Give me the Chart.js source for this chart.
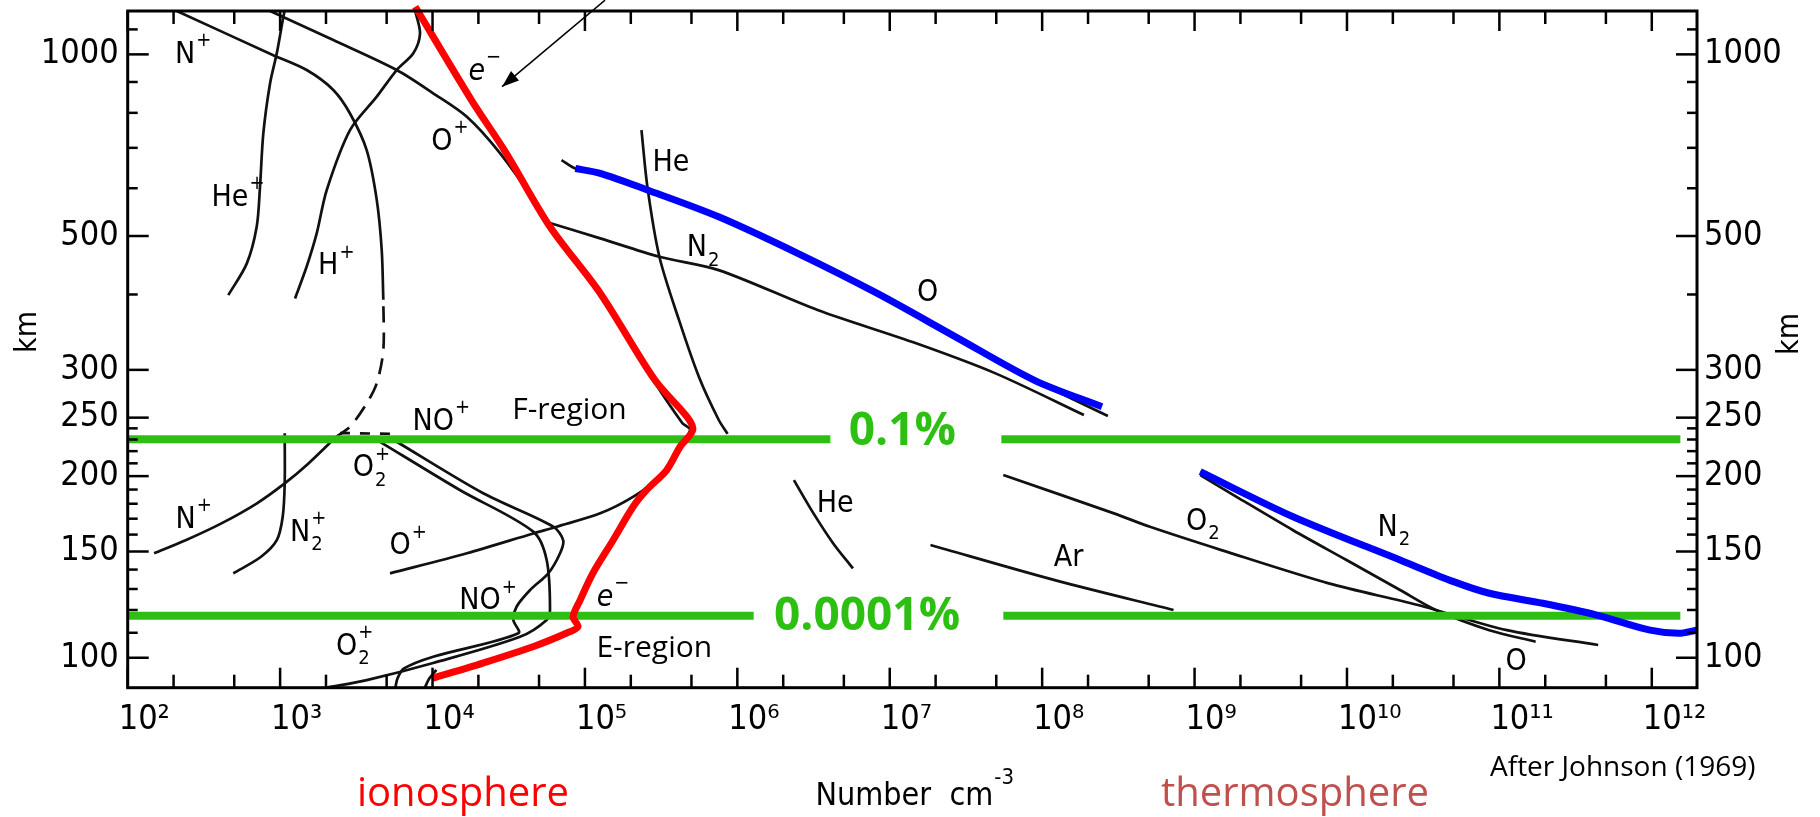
<!DOCTYPE html>
<html>
<head>
<meta charset="utf-8">
<script src="https://cdn.jsdelivr.net/npm/chart.js@4.4.1/dist/chart.umd.min.js"></script>
<style>
  html, body { margin: 0; padding: 0; background: #fff; }
  #wrap { width: 1820px; height: 817px; }
</style>
</head>
<body>
<div id="wrap"><canvas id="myChart"></canvas></div>
<script>
// axis ranges (number cm^-3, km)
const xRange = [100, 1.98e12];
const yRange = [89.2, 1180];
const xDecades = [2, 3, 4, 5, 6, 7, 8, 9, 10, 11, 12];
const yLabelled = [100, 150, 200, 250, 300, 500, 1000];
const yMinor = [110, 120, 130, 140, 160, 170, 180, 190, 210, 220, 230, 240, 400, 600, 700, 800, 900, 1100];

// ions, [number cm^-3, km]
const nPlusLow = [[149,149],[240,156.6],[412,167],[705,180.3],[1072,194.5],[1535,209.9],[2330,232.3]];
const nPlusDash = [[2330,232.3],[2875,241.5],[3700,264],[4306,285],[4756,323.6],[4756,392]];
const nPlusTop = [[4756,392],[4642,474],[4306,574],[3698,694],[2875,798],[2234,873],[1494,942],[902,997],[210,1180]];
const noPlusDash = [[2470,235.7],[5850,235]];
const hePlus = [[457,399],[604,450],[702,518],[738,603],[776,740],[859,895],[951,1004],[1050,1154],[1070,1180]];
const hPlus = [[1253,394],[1494,445],[1738,505],[2023,596],[2875,749],[4306,851],[5820,942],[7480,1004],[8280,1083],[7700,1180]];
const n2Plus = [[493,138],[750,147],[951,156.6],[1040,171.3],[1072,194.5],[1072,235.5]];
const oPlus = [[860,1180],[2234,1056],[5820,942],[1.01e4,862],[1.68e4,788],[2.77e4,686],[4.58e4,574],[5.8e4,518],[1.22e5,402],[2.8e5,288.5],[4.35e5,245],[4.9e5,238.5],[4.21e5,223.7],[3.11e5,199.5],[2.08e5,184.9],[1.26e5,173.5],[6.53e4,164.9],[4.58e4,160.7],[1.68e4,149],[5260,138]];
const o2Plus = [[4525,228],[1.51e4,189.7],[4.58e4,161.8],[5.61e4,145.2],[5.9e4,120],[5.61e4,115.5],[3.75e4,108.3],[1.01e4,98],[3700,91.8],[2020,89.2]];
const noPlus = [[5820,228],[2.15e4,187.3],[6.2e4,164.9],[7.2e4,156.6],[6.87e4,149],[5.75e4,138],[4.37e4,129.5],[3.56e4,121.5],[3.39e4,115.5],[3.66e4,109.8],[1.01e4,100.4],[6500,96],[5900,92.5],[5700,89.2]];
const eLowTail = [[1.06e4,95.5],[9.5e3,92.3],[8.9e3,89.2]];
const electrons = [[7.7e3,1199],[1.8e4,840],[3.0e4,690],[5.9e4,518],[1.26e5,402],[2.88e5,288.5],[4.68e5,250.7],[5.1e5,238.5],[4.21e5,223.7],[3.44e5,204.7],[2.54e5,189.7],[2.07e5,177.9],[1.53e5,156.6],[1.13e5,138.2],[9.3e4,124.6],[8.36e4,116.9],[9.0e4,112.6],[7.6e4,109.9],[4.56e4,104.3],[2.14e4,98],[9.9e3,92.4]];

// neutrals
const heHigh = [[2.35e5,749],[2.57e5,603],[3.08e5,462],[4.14e5,363],[5.6e5,292],[7.54e5,248],[8.63e5,235]];
const n2High = [[5.53e4,528],[1.26e5,495.5],[3.08e5,462],[7.54e5,439],[3.36e6,377],[1.49e7,332],[4.94e7,296],[1.88e8,252.5]];
const oHigh = [[7.02e4,668],[8.65e4,647],[1.26e5,635],[2.57e5,596],[7.54e5,538],[2.49e6,468],[8.23e6,402],[2.72e7,340],[8.98e7,288],[2.7e8,251.5]];
const oHighBlue = [[8.65e4,647],[1.26e5,635],[2.57e5,596],[7.54e5,538],[2.49e6,468],[8.23e6,402],[2.72e7,340],[8.98e7,288],[2.47e8,260.6]];
const heLow = [[2.35e6,197],[3.16e6,173.5],[4.26e6,154.7],[5.74e6,140.6]];
const ar = [[1.85e7,153.8],[1.21e8,134.5],[7.28e8,120]];
const o2 = [[5.56e7,200.8],[2.96e8,173.5],[5.1e8,164.8],[1.5e9,150.8],[7.59e9,132.8],[2.92e10,122.3],[1.12e11,111.1],[4.45e11,105]];
const oLow = [[1.09e9,200.8],[1.97e9,183.6],[4.43e9,162.7],[9.93e9,145.2],[2.23e10,129.5],[3.83e10,120],[8.59e10,111.1],[1.73e11,106.3]];
const n2Low = [[1.09e9,203.4],[4.43e9,171.3],[2.23e10,145.2],[5.01e10,133.7],[8.59e10,127.9],[1.93e11,123.1],[4.34e11,117.7],[9.75e11,111.1],[1.5e12,109.8],[1.97e12,111.1]];

// percentage markers
const pctLevels = [230.2, 117.4];
const pctText = ['0.1%', '0.0001%'];
const pctGapFrom = [4.08e6, 1.28e6];
const pctGapTo = [5.4e7, 5.56e7];
const pctLineEnd = 1.54e12;
const pctTextAt = [[1.21e7, 225.2], [7.1e6, 111.1]];

// curve labels: base, superscript, subscript, x, y
const curveLabels = [
  ['N','+','',238,997], ['He','+','',469,578], ['H','+','',2070,445], ['O','+','',1.15e4,716],
  ['e','\u2212','',1.95e4,935], ['He','','',3.67e5,660], ['N','','2',5.43e5,477], ['O','','',1.77e7,402],
  ['NO','+','',1.01e4,246], ['O','+','2',3514,206], ['N','+','',240,169], ['N','+','2',1352,161],
  ['O','+','',6120,153], ['NO','+','',2.05e4,124], ['e','\u2212','',1.355e5,125.5], ['O','+','2',2735,104.3],
  ['He','','',4.39e6,180], ['Ar','','',1.49e8,146], ['O','','2',1.03e9,168], ['N','','2',1.85e10,164], ['O','','',1.29e11,98.5]
];
const regionLabels = [['F-region', 3.33e4, 248.3], ['E-region', 1.19e5, 100.4]];
const arrowFrom = [1.355e5, 1230];
const arrowTo = [2.86e4, 884];

const SUP = {'0':'\u2070','1':'\u00b9','2':'\u00b2','3':'\u00b3','4':'\u2074','5':'\u2075','6':'\u2076','7':'\u2077','8':'\u2078','9':'\u2079'};
const scanFont = '"DejaVu Sans Condensed", "DejaVu Sans", sans-serif';
const slideFont = '"Open Sans", "Noto Sans", sans-serif';

function pts(a) { return a.map(p => ({x: p[0], y: p[1]})); }
function curve(data, color, width, order, extra) {
  return Object.assign({
    data: pts(data), showLine: true, borderColor: color, borderWidth: width,
    pointRadius: 0, tension: 0.3, fill: false, order: order
  }, extra || {});
}

const black = '#111', blue = '#0000ff', red = '#ff0000', green = '#2dc013';
const datasets = [
  curve(electrons, red, 7, 0, {clip: false}),
  curve(oHighBlue, blue, 7, 1),
  curve(n2Low, blue, 7, 1),
  curve(nPlusLow, black, 2.7, 3),
  curve(nPlusDash, black, 2.7, 3, {borderDash: [16, 10]}),
  curve(noPlusDash, black, 2.7, 3, {borderDash: [10, 10], tension: 0}),
  curve(nPlusTop, black, 2.7, 3),
  curve(hePlus, black, 2.7, 3),
  curve(hPlus, black, 2.7, 3),
  curve(n2Plus, black, 2.7, 3),
  curve(oPlus, black, 2.7, 3),
  curve(o2Plus, black, 2.7, 3),
  curve(noPlus, black, 2.7, 3),
  curve(eLowTail, black, 2.7, 3),
  curve(heHigh, black, 2.7, 3),
  curve(n2High, black, 2.7, 3),
  curve(oHigh, black, 2.7, 3),
  curve(heLow, black, 2.7, 3),
  curve(ar, black, 2.7, 3),
  curve(o2, black, 2.7, 3),
  curve(oLow, black, 2.7, 3),
  curve(n2Low, black, 2.7, 3)
];
pctLevels.forEach((lv, i) => {
  datasets.push(curve([[xRange[0], lv], [pctGapFrom[i], lv]], green, 8, 2, {tension: 0}));
  datasets.push(curve([[pctGapTo[i], lv], [pctLineEnd, lv]], green, 8, 2, {tension: 0}));
});

function drawSpecies(ctx, px, py, base, sup, sub, italic) {
  ctx.font = (italic ? 'italic ' : '') + '30px ' + scanFont;
  ctx.textAlign = 'center';
  ctx.textBaseline = 'middle';
  ctx.fillText(base, px, py);
  const w = ctx.measureText(base).width;
  ctx.font = '20px ' + scanFont;
  ctx.textAlign = 'left';
  if (sup) ctx.fillText(sup, px + w / 2 + 1, py - 14);
  if (sub) ctx.fillText(sub, px + w / 2 + 1, py + 12);
}

const overlay = {
  id: 'overlay',
  afterDatasetsDraw(chart) {
    const {ctx, chartArea: a, scales: {x, y}} = chart;
    ctx.save();
    ctx.strokeStyle = '#000';
    ctx.fillStyle = '#000';
    ctx.lineWidth = 3;
    ctx.strokeRect(a.left, a.top, a.right - a.left, a.bottom - a.top);
    ctx.lineWidth = 2.5;
    const seg = (x1, y1, x2, y2) => { ctx.beginPath(); ctx.moveTo(x1, y1); ctx.lineTo(x2, y2); ctx.stroke(); };
    xDecades.forEach(n => [1, 2, 5].forEach(m => {
      const v = m * Math.pow(10, n);
      if (v > xRange[1]) return;
      const px = x.getPixelForValue(v), len = m === 1 ? 20 : 13;
      seg(px, a.bottom, px, a.bottom - len);
      seg(px, a.top, px, a.top + len);
    }));
    yLabelled.concat(yMinor).forEach(v => {
      const py = y.getPixelForValue(v), len = yLabelled.includes(v) ? 21 : 10;
      seg(a.left, py, a.left + len, py);
      seg(a.right, py, a.right - len, py);
    });

    // curve labels
    curveLabels.forEach(l => drawSpecies(ctx, x.getPixelForValue(l[3]), y.getPixelForValue(l[4]), l[0], l[1], l[2], l[0] === 'e'));

    // region labels
    ctx.font = '30px ' + slideFont;
    ctx.textAlign = 'left';
    ctx.textBaseline = 'alphabetic';
    regionLabels.forEach(r => ctx.fillText(r[0], x.getPixelForValue(r[1]), y.getPixelForValue(r[2])));

    // percentage labels
    ctx.fillStyle = green;
    ctx.font = 'bold 46px ' + slideFont;
    ctx.textAlign = 'center';
    pctText.forEach((t, i) => ctx.fillText(t, x.getPixelForValue(pctTextAt[i][0]), y.getPixelForValue(pctTextAt[i][1])));

    // arrow to e-
    ctx.fillStyle = '#000';
    ctx.lineWidth = 1.5;
    const ax1 = x.getPixelForValue(arrowFrom[0]), ay1 = y.getPixelForValue(arrowFrom[1]);
    const ax2 = x.getPixelForValue(arrowTo[0]), ay2 = y.getPixelForValue(arrowTo[1]);
    seg(ax1, ay1, ax2, ay2);
    const ang = Math.atan2(ay2 - ay1, ax2 - ax1);
    ctx.beginPath();
    ctx.moveTo(ax2, ay2);
    ctx.lineTo(ax2 - 18 * Math.cos(ang - 0.35), ay2 - 18 * Math.sin(ang - 0.35));
    ctx.lineTo(ax2 - 18 * Math.cos(ang + 0.35), ay2 - 18 * Math.sin(ang + 0.35));
    ctx.closePath();
    ctx.fill();

    // axis titles
    ctx.font = '30px ' + scanFont;
    ctx.textBaseline = 'middle';
    ctx.textAlign = 'center';
    [[28, 332], [1790, 334]].forEach(p => {
      ctx.save(); ctx.translate(p[0], p[1]); ctx.rotate(-Math.PI / 2); ctx.fillText('km', 0, 0); ctx.restore();
    });
    ctx.textBaseline = 'alphabetic';
    ctx.textAlign = 'left';
    ctx.font = '32px ' + scanFont;
    const t1 = 'Number  cm';
    const w1 = ctx.measureText(t1).width;
    const cx = (a.left + a.right) / 2 - 8;
    ctx.fillText(t1, cx - w1 / 2, 805);
    ctx.font = '22px ' + scanFont;
    ctx.fillText('-3', cx + w1 / 2 + 1, 784);

    ctx.font = '40px ' + slideFont;
    ctx.textAlign = 'center';
    ctx.fillStyle = '#ff0000';
    ctx.fillText('ionosphere', 463, 806);
    ctx.fillStyle = '#c0504d';
    ctx.fillText('thermosphere', 1295, 806);
    ctx.fillStyle = '#000';
    ctx.font = '28px ' + slideFont;
    ctx.textAlign = 'left';
    ctx.fillText('After Johnson (1969)', 1490, 776);
    ctx.restore();
  }
};

function noPad(s) { s.paddingTop = 0; s.paddingBottom = 0; s.paddingLeft = 0; s.paddingRight = 0; }

const yTicks = {
  min: yRange[0], max: yRange[1],
  afterBuildTicks: s => { s.ticks = yLabelled.map(v => ({value: v})); },
  grid: {display: false, drawTicks: false}, border: {display: false}
};

new Chart(document.getElementById('myChart').getContext('2d'), {
  type: 'scatter',
  data: {datasets: datasets},
  options: {
    responsive: true,
    maintainAspectRatio: false,
    animation: false,
    layout: {padding: {top: 11, left: 0, right: 0, bottom: 0}},
    plugins: {legend: {display: false}, tooltip: {enabled: false}},
    scales: {
      x: {
        type: 'logarithmic', min: xRange[0], max: xRange[1],
        afterBuildTicks: s => { s.ticks = xDecades.map(n => ({value: Math.pow(10, n)})); },
        afterFit: s => { s.height = 129.3; noPad(s); },
        grid: {display: false, drawTicks: false}, border: {display: false},
        ticks: {
          autoSkip: false, maxRotation: 0, padding: 12, align: 'start', labelOffset: -9, color: '#000',
          font: {family: scanFont, size: 34},
          callback: v => '10' + String(Math.round(Math.log10(v))).split('').map(c => SUP[c]).join('')
        }
      },
      y: Object.assign({
        type: 'logarithmic', position: 'left',
        afterFit: s => { s.width = 127.7; noPad(s); },
        ticks: {autoSkip: false, padding: 9, color: '#000', font: {family: scanFont, size: 34}, callback: v => String(v)}
      }, yTicks),
      y2: Object.assign({
        type: 'logarithmic', position: 'right',
        afterFit: s => { s.width = 123; noPad(s); },
        ticks: {autoSkip: false, padding: 7, color: '#000', font: {family: scanFont, size: 34}, callback: v => String(v)}
      }, yTicks)
    }
  },
  plugins: [overlay]
});
</script>
</body>
</html>
